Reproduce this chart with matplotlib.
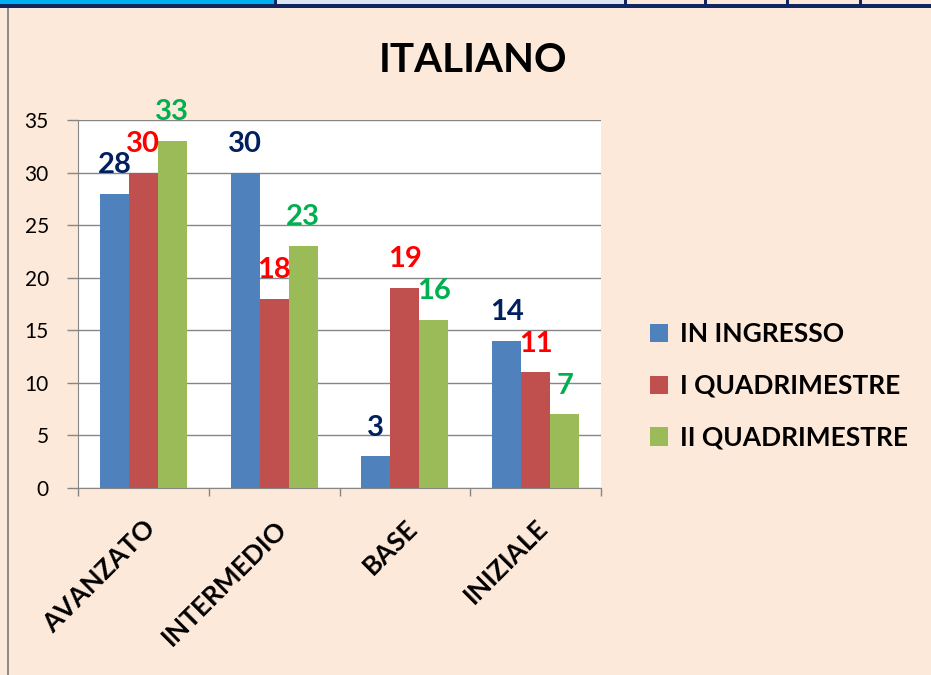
import matplotlib

matplotlib.use("Agg")
import matplotlib.pyplot as plt
import matplotlib.patches as mpatches
import numpy as np

plt.rcParams["font.family"] = ["Lato", "DejaVu Sans"]

categories = ["AVANZATO", "INTERMEDIO", "BASE", "INIZIALE"]
series_names = ["IN INGRESSO", "I QUADRIMESTRE", "II QUADRIMESTRE"]
in_ingresso = [28, 30, 3, 14]
i_quadr = [30, 18, 19, 11]
ii_quadr = [33, 23, 16, 7]
y_ticks = [0, 5, 10, 15, 20, 25, 30, 35]

bar_colors = ["#4F81BD", "#C0504D", "#9BBB59"]
label_colors = ["#002060", "#FF0000", "#00B050"]

W, H = 931, 675
fig = plt.figure(figsize=(W / 100, H / 100), dpi=100)
fig.patch.set_facecolor("#FDE9D9")

# top strip (spreadsheet header remnants)
bg = fig.add_axes([0, 0, 1, 1])
bg.set_xlim(0, W)
bg.set_ylim(H, 0)
bg.axis("off")
bg.add_patch(mpatches.Rectangle((0, 0), 275, 4, facecolor="#00B0F0", edgecolor="none"))
bg.add_patch(mpatches.Rectangle((275, 0), 350, 4, facecolor="#DCE6F2", edgecolor="none"))
bg.add_patch(mpatches.Rectangle((0, 4), W, 4, facecolor="#0F2660", edgecolor="none"))
for xs in [275, 625, 705, 787, 860]:
    bg.add_patch(mpatches.Rectangle((xs - 1.5, 0), 3, 5, facecolor="#0F2660", edgecolor="none"))
bg.add_patch(mpatches.Rectangle((7, 8), 2, H, facecolor="#8C8C8C", edgecolor="none"))

ax = fig.add_axes([78 / W, 1 - 488 / H, 523 / W, 368 / H])
ax.set_facecolor("white")

x = np.arange(len(categories))
bw = 0.222
series = [in_ingresso, i_quadr, ii_quadr]
for i, (vals, name) in enumerate(zip(series, series_names)):
    pos = x + (i - 1) * bw
    ax.bar(pos, vals, width=bw, color=bar_colors[i], label=name, zorder=3)
    for px, v in zip(pos, vals):
        ax.annotate(str(v), (px, v), xytext=(0, 15), textcoords="offset points",
                    ha="center", va="baseline", fontsize=21, fontweight="bold",
                    color=label_colors[i], zorder=4)

ax.set_xlim(-0.5, len(categories) - 0.5)
ax.set_ylim(0, 35)
ax.set_yticks(y_ticks)
ax.set_yticklabels([str(t) for t in y_ticks], fontsize=15)
ax.grid(axis="y", color="#868686", linewidth=1, zorder=0)
ax.tick_params(axis="y", length=8, color="#868686", width=1, pad=13)

ax.set_xticks(np.arange(len(categories) + 1) - 0.5, minor=False)
ax.set_xticklabels([])
ax.tick_params(axis="x", length=6, color="#868686", width=1)
ax.set_xticks(x, minor=True)
ax.set_xticklabels(categories, minor=True, rotation=45, ha="right",
                   rotation_mode="anchor", fontsize=19, fontweight="bold")
ax.tick_params(axis="x", which="minor", length=0, pad=20)

for side in ["top", "right"]:
    ax.spines[side].set_visible(False)
for side in ["left", "bottom"]:
    ax.spines[side].set_color("#868686")

fig.text(473 / W, 1 - 60 / H, "ITALIANO", ha="center", va="center",
         fontsize=29, fontweight="bold", color="black")

leg = fig.legend(loc="center left", bbox_to_anchor=(626 / W, 1 - 386 / H),
                 frameon=False, fontsize=19, handlelength=0.7, handleheight=0.7,
                 labelspacing=1.05, handletextpad=0.45)
for t in leg.get_texts():
    t.set_fontweight("bold")

plt.savefig("out.png", dpi=100, facecolor=fig.get_facecolor())
